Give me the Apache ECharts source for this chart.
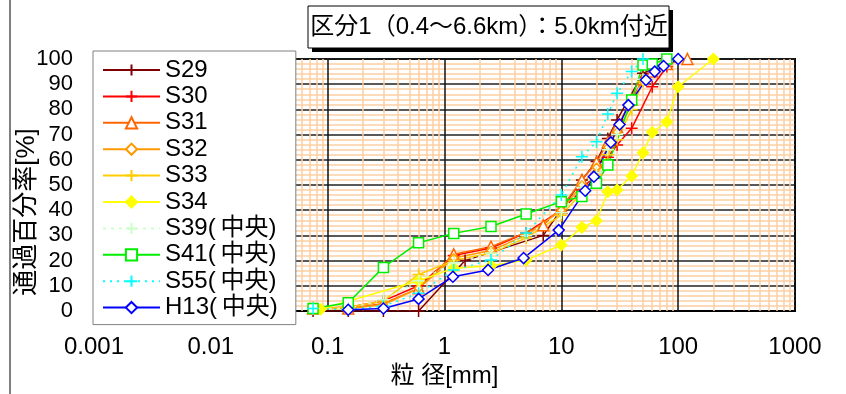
<!DOCTYPE html>
<html>
<head>
<meta charset="utf-8">
<script src="https://cdn.jsdelivr.net/npm/echarts@6/dist/echarts.min.js"></script>
<style>
  html, body { margin: 0; padding: 0; background: #fff; }
  #chart { width: 846px; height: 394px; }
</style>
</head>
<body>
<div id="chart"></div>
<script>
// Grain-size distribution curves (particle size [mm] vs. percent passing [%])
const chartTitle = '区分1（0.4～6.6km）：5.0km付近';
const xAxisName = '粒 径[mm]';
const yAxisName = '通過百分率[%]';
const xTickLabels = ['0.001', '0.01', '0.1', '1', '10', '100', '1000'];

// [sieve size mm, percent passing]
const S29 = [[0.075, 0], [0.15, 0], [0.3, 0], [0.6, 0], [1.5, 20], [7, 30], [15, 52], [20, 59.3], [25, 68.5], [30, 75.8], [50, 94.3], [80, 99], [100, 100]];
const S30 = [[0.075, 1], [0.15, 1.5], [0.3, 4], [0.6, 10], [1.2, 22], [2.5, 25], [5, 31], [10, 40], [15, 48], [20, 55], [25, 61], [30, 65.9], [40, 72.5], [60, 89], [80, 97], [100, 100]];
const S31 = [[0.075, 1], [0.15, 1], [0.3, 3], [0.6, 9], [1.2, 22.5], [2.5, 25.5], [7, 34], [10, 41], [15, 52], [20, 59], [25, 67], [30, 73], [40, 84], [50, 92], [60, 95], [80, 98], [120, 100]];
const S32 = [[0.075, 1], [0.15, 1], [0.3, 2.5], [0.6, 9], [1.2, 21], [2.5, 24], [5, 30], [10, 40], [15, 50], [20, 57], [25, 65], [30, 71], [40, 82], [50, 91], [80, 98], [100, 100]];
const S33 = [[0.075, 1], [0.15, 1.5], [0.3, 4], [0.6, 14.5], [1.2, 20], [2.5, 23], [5, 29], [10, 38], [15, 47], [20, 54], [25, 62], [30, 68], [40, 80], [50, 91], [80, 99], [100, 100]];
const S34 = [[0.087, 0.7], [0.6, 12], [1.2, 17], [2.5, 18], [5, 20.2], [10, 26.2], [15, 33.2], [20, 35.8], [25, 47.3], [30, 48], [40, 53.6], [50, 62.8], [60, 70.9], [80, 75.1], [100, 89], [200, 100]];
const S39 = [[0.075, 1], [0.15, 1], [0.3, 4.5], [0.6, 12], [1.2, 19], [2.5, 23], [5, 30], [10, 39], [15, 49], [20, 55], [25, 64], [30, 70], [40, 82], [50, 92], [80, 99], [100, 100]];
const S41 = [[0.075, 1], [0.15, 3.3], [0.3, 17.3], [0.6, 27.1], [1.2, 30.8], [2.5, 33.5], [5, 38.5], [10, 43.4], [15, 45.4], [20, 50.7], [25, 57.9], [40, 83.7], [50, 97.6], [60, 98], [80, 100]];
const S55 = [[0.075, 1], [0.15, 0.5], [0.3, 2], [0.6, 7], [1.2, 16.3], [2.5, 20.2], [5, 31], [10, 46], [15, 61.2], [20, 67.2], [25, 78.2], [30, 86.4], [40, 95], [50, 100]];
const H13 = [[0.15, 0.5], [0.3, 1], [0.6, 4.8], [1.18, 13.6], [2.36, 16.3], [4.75, 21], [9.5, 32.1], [16, 47.7], [19, 53.3], [26.5, 66.9], [31.5, 74], [37.5, 81.7], [53, 91.7], [63, 95], [75, 97.2], [100, 100]];

const FONT = '"Liberation Sans", Arial, "Noto Sans CJK JP", sans-serif';
const PLUS = 'path://M5,0L5,10M0,5L10,5';

const curveDefs = [
  { name: 'S29', data: S29, color: '#800000', symbol: PLUS, fill: 'none', size: 12, dash: 'solid' },
  { name: 'S30', data: S30, color: '#FF0000', symbol: PLUS, fill: 'none', size: 12, dash: 'solid' },
  { name: 'S31', data: S31, color: '#FF6600', symbol: 'triangle', fill: '#fff', size: 11, dash: 'solid' },
  { name: 'S32', data: S32, color: '#FF9900', symbol: 'diamond', fill: '#fff', size: 8, dash: 'solid' },
  { name: 'S33', data: S33, color: '#FFCC00', symbol: PLUS, fill: 'none', size: 12, dash: 'solid' },
  { name: 'S34', data: S34, color: '#FFFF00', symbol: 'diamond', fill: '#FFFF00', size: 11, dash: 'solid' },
  { name: 'S39(\u2009中央)', data: S39, color: '#CCFFCC', symbol: PLUS, fill: 'none', size: 12, dash: [3, 5] },
  { name: 'S41(\u2009中央)', data: S41, color: '#00EE00', symbol: 'rect', fill: '#fff', size: 10, dash: 'solid' },
  { name: 'S55(\u2009中央)', data: S55, color: '#00FFFF', symbol: PLUS, fill: 'none', size: 12, dash: [2, 5] },
  { name: 'H13(\u2009中央)', data: H13, color: '#0000FF', symbol: 'diamond', fill: '#fff', size: 11, dash: 'solid' }
];

// minor log grid lines at 2..9 within each decade
const minorX = [];
for (let e = -3; e < 3; e++) {
  for (let m = 2; m <= 9; m++) minorX.push({ xAxis: m * Math.pow(10, e) });
}

const series = [{
  type: 'line', data: [], silent: true, z: 1,
  markLine: {
    silent: true, symbol: 'none', animation: false, z: 1,
    label: { show: false },
    lineStyle: { color: '#FDCFA3', width: 1.5, type: 'solid' },
    emphasis: { disabled: true },
    data: minorX
  }
}].concat(curveDefs.map(d => ({
  name: d.name,
  type: 'line',
  data: d.data,
  symbol: d.symbol,
  symbolSize: d.size,
  showAllSymbol: true,
  animation: false,
  z: 3,
  color: d.color,
  lineStyle: { color: d.color, width: 1.5, type: d.dash },
  itemStyle: { color: d.fill, borderColor: d.color, borderWidth: 1.5 }
})));

const chart = echarts.init(document.getElementById('chart'), null, { renderer: 'canvas' });
chart.setOption({
  backgroundColor: '#fff',
  animation: false,
  grid: { left: 94, right: 51, top: 59, bottom: 83, show: true, borderColor: '#000', borderWidth: 2, backgroundColor: 'transparent' },
  xAxis: {
    type: 'log', logBase: 10, min: 0.001, max: 1000,
    name: xAxisName, nameLocation: 'middle', nameGap: 52,
    nameTextStyle: { fontFamily: FONT, fontSize: 24, color: '#000' },
    axisLine: { show: true, lineStyle: { color: '#000', width: 2 } },
    axisTick: { show: false },
    axisLabel: {
      fontFamily: FONT, fontSize: 24, color: '#000', margin: 24,
      formatter: v => xTickLabels[Math.round(Math.log10(v)) + 3]
    },
    splitLine: { show: true, lineStyle: { color: '#111', width: 1.5 } },
    minorTick: { show: false },
    minorSplitLine: { show: false }
  },
  yAxis: {
    type: 'value', min: 0, max: 100, interval: 10,
    axisLine: { show: false },
    axisTick: { show: false },
    axisLabel: { fontFamily: FONT, fontSize: 22, color: '#000', margin: 21 },
    splitLine: { show: true, lineStyle: { color: '#222', width: 1.5 } },
    minorTick: { show: false, splitNumber: 5 },
    minorSplitLine: { show: true, lineStyle: { color: '#FDCFA3', width: 1.5 } }
  },
  legend: {
    orient: 'vertical', left: 93, top: 51, z: 10,
    data: curveDefs.map(d => d.name),
    itemWidth: 57, itemHeight: 14, itemGap: 0.4,
    padding: [6, 18, 4, 9],
    backgroundColor: '#fff', borderColor: '#808080', borderWidth: 1,
    textStyle: { fontFamily: FONT, fontSize: 24, color: '#000', lineHeight: 26 },
    selectedMode: false
  },
  graphic: [
    { type: 'line', shape: { x1: 10, y1: 0, x2: 10, y2: 394 }, style: { stroke: '#000', lineWidth: 1 } },
    { type: 'text', x: 27, y: 212, rotation: Math.PI / 2, style: { text: yAxisName, font: '26px ' + FONT, fill: '#000', align: 'center', verticalAlign: 'middle' } },
    { type: 'rect', shape: { x: 312, y: 10, width: 361, height: 42 }, style: { fill: '#000' }, z: 10 },
    { type: 'rect', shape: { x: 308, y: 6, width: 361, height: 42 }, style: { fill: '#fff', stroke: '#000', lineWidth: 1 }, z: 11 },
    { type: 'text', x: 489, y: 27, style: { text: chartTitle, font: '24px ' + FONT, fill: '#000', align: 'center', verticalAlign: 'middle' }, z: 12 }
  ],
  series: series
});
</script>
</body>
</html>
